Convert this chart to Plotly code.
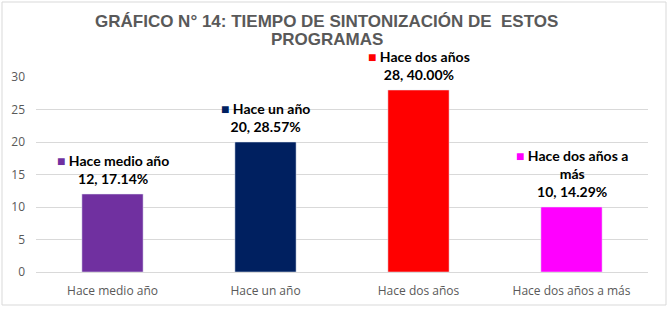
import plotly.graph_objects as go

categories = ["Hace medio año", "Hace un año", "Hace dos años", "Hace dos años a más"]
values = [12, 20, 28, 10]
percents = ["17.14%", "28.57%", "40.00%", "14.29%"]
label_names = ["Hace medio año", "Hace un año", "Hace dos años", "Hace dos años a<br>más"]
colors = ["#7030A0", "#002060", "#FF0000", "#FF00FF"]
title_lines = ["GRÁFICO N° 14: TIEMPO DE SINTONIZACIÓN DE  ESTOS", "PROGRAMAS"]

fig = go.Figure(go.Bar(
    x=categories, y=values, marker_color=colors, width=0.4, hoverinfo="skip"
))

for c, v, p, n, col in zip(categories, values, percents, label_names, colors):
    fig.add_annotation(
        x=c, y=v, xref="x", yref="y", yanchor="bottom", yshift=5, showarrow=False,
        text=f"<span style='color:{col}'>■</span> {n}<br>{v}, {p}",
        font=dict(family="Lato", size=14, color="#000000", weight="bold"),
        align="center",
    )

for line, ypos in zip(title_lines, [1.287, 1.19]):
    fig.add_annotation(
        x=0.475, y=ypos, xref="paper", yref="paper", xanchor="center", yanchor="middle",
        showarrow=False, text=f"<b>{line}</b>",
        font=dict(family="Liberation Sans Narrow, Liberation Sans, Arial", size=17, color="#595959"),
    )

fig.update_layout(
    width=669, height=309,
    margin=dict(l=36, r=21, t=77, b=37),
    paper_bgcolor="white", plot_bgcolor="white",
    showlegend=False,
    bargap=0.6,
)
fig.update_xaxes(
    tickfont=dict(family="Open Sans", size=12, color="#595959"),
    showline=True, linecolor="#D9D9D9", ticks="", ticklabelstandoff=8,
    automargin=False,
)
fig.update_yaxes(
    range=[0, 30], dtick=5, showgrid=True, gridcolor="#D9D9D9", zeroline=False,
    tickfont=dict(family="Open Sans", size=12, color="#595959"), ticks="",
    ticklabelstandoff=10, automargin=False,
)
fig.add_shape(type="rect", xref="paper", yref="paper",
              x0=-34/612, x1=1 + 18/612, y0=-33/195, y1=1 + 75/195,
              line=dict(color="#D9D9D9", width=1), fillcolor="rgba(0,0,0,0)")

fig.write_html("out.html")
